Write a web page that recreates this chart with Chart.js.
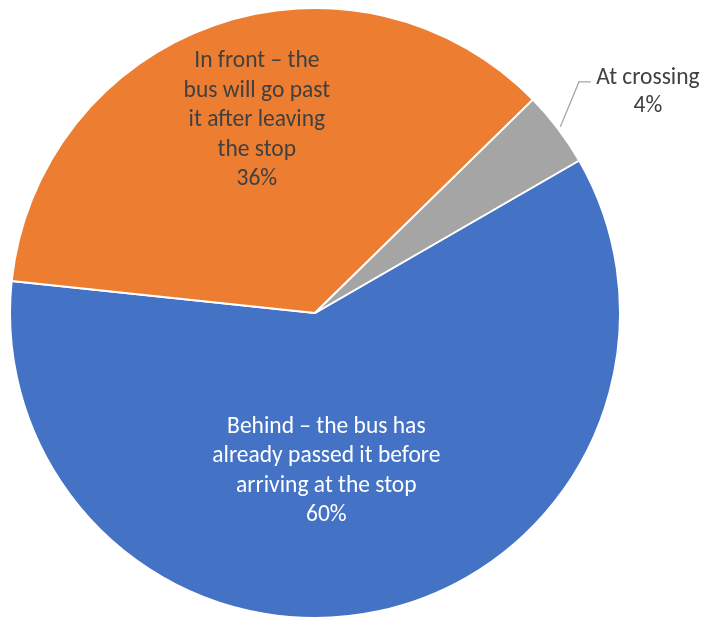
<!DOCTYPE html>
<html>
<head>
<meta charset="utf-8">
<script src="https://cdn.jsdelivr.net/npm/chart.js@4.4.1/dist/chart.umd.min.js"></script>
<style>
  html, body { margin: 0; padding: 0; background: #fff; }
  #wrap { width: 704px; height: 619px; }
</style>
</head>
<body>
<div id="wrap"><canvas id="pie"></canvas></div>
<script>
const categories = [
    ['Behind \u2013 the bus has', 'already passed it before', 'arriving at the stop'],
    ['In front \u2013 the', 'bus will go past', 'it after leaving', 'the stop'],
    ['At crossing']
];
const shares = [60, 36, 4];
const colours = ['#4472C4', '#ED7D31', '#A5A5A5'];
const FONT = 'Carlito, Calibri, Lato, sans-serif';

// where each label sits: fraction of radius, angle shift (deg) from slice middle
const labelPlace = [
    { f: 0.52, shift: 7.9, colour: '#ffffff', outside: false },
    { f: 0.66, shift: 2.4, colour: '#404040', outside: false },
    { f: 1.01, shift: 0, colour: '#404040', outside: true }
];

const pieLabels = {
    id: 'pieLabels',
    afterDatasetsDraw(chart) {
        const ctx = chart.ctx;
        const arcs = chart.getDatasetMeta(0).data;
        ctx.save();
        ctx.font = '23.5px ' + FONT;
        ctx.textAlign = 'center';
        ctx.textBaseline = 'middle';
        const lh = 29.5;
        arcs.forEach((arc, i) => {
            const p = arc.getProps(['x', 'y', 'startAngle', 'endAngle', 'outerRadius'], true);
            const lines = categories[i].concat([shares[i] + '%']);
            const pl = labelPlace[i];
            const mid = (p.startAngle + p.endAngle) / 2 + pl.shift * Math.PI / 180;
            if (!pl.outside) {
                const cx = p.x + Math.cos(mid) * p.outerRadius * pl.f;
                const cy = p.y + Math.sin(mid) * p.outerRadius * pl.f;
                ctx.fillStyle = pl.colour;
                lines.forEach((t, k) => ctx.fillText(t, cx, cy + (k - (lines.length - 1) / 2) * lh));
            } else {
                const sx = p.x + Math.cos(mid) * p.outerRadius * pl.f;
                const sy = p.y + Math.sin(mid) * p.outerRadius * pl.f;
                const a2 = mid - 4 * Math.PI / 180;
                const ex = p.x + Math.cos(a2) * p.outerRadius * 1.15;
                const ey = p.y + Math.sin(a2) * p.outerRadius * 1.15;
                ctx.strokeStyle = '#A6A6A6';
                ctx.lineWidth = 1.3;
                ctx.beginPath();
                ctx.moveTo(sx, sy);
                ctx.lineTo(ex, ey);
                ctx.lineTo(ex + 12, ey);
                ctx.stroke();
                ctx.fillStyle = pl.colour;
                const tx = ex + 12 + 57;
                lines.forEach((t, k) => ctx.fillText(t, tx, ey - 4 + k * 28));
            }
        });
        ctx.restore();
    }
};

new Chart(document.getElementById('pie'), {
    type: 'pie',
    data: {
        labels: categories.map(c => c.join(' ')),
        datasets: [{
            data: shares,
            backgroundColor: colours,
            borderColor: '#ffffff',
            borderWidth: 2
        }]
    },
    options: {
        responsive: true,
        maintainAspectRatio: false,
        animation: false,
        rotation: 60,
        layout: { padding: { top: 7, bottom: 0, left: 9, right: 83 } },
        plugins: {
            legend: { display: false },
            tooltip: { enabled: false }
        }
    },
    plugins: [pieLabels]
});
</script>
</body>
</html>
